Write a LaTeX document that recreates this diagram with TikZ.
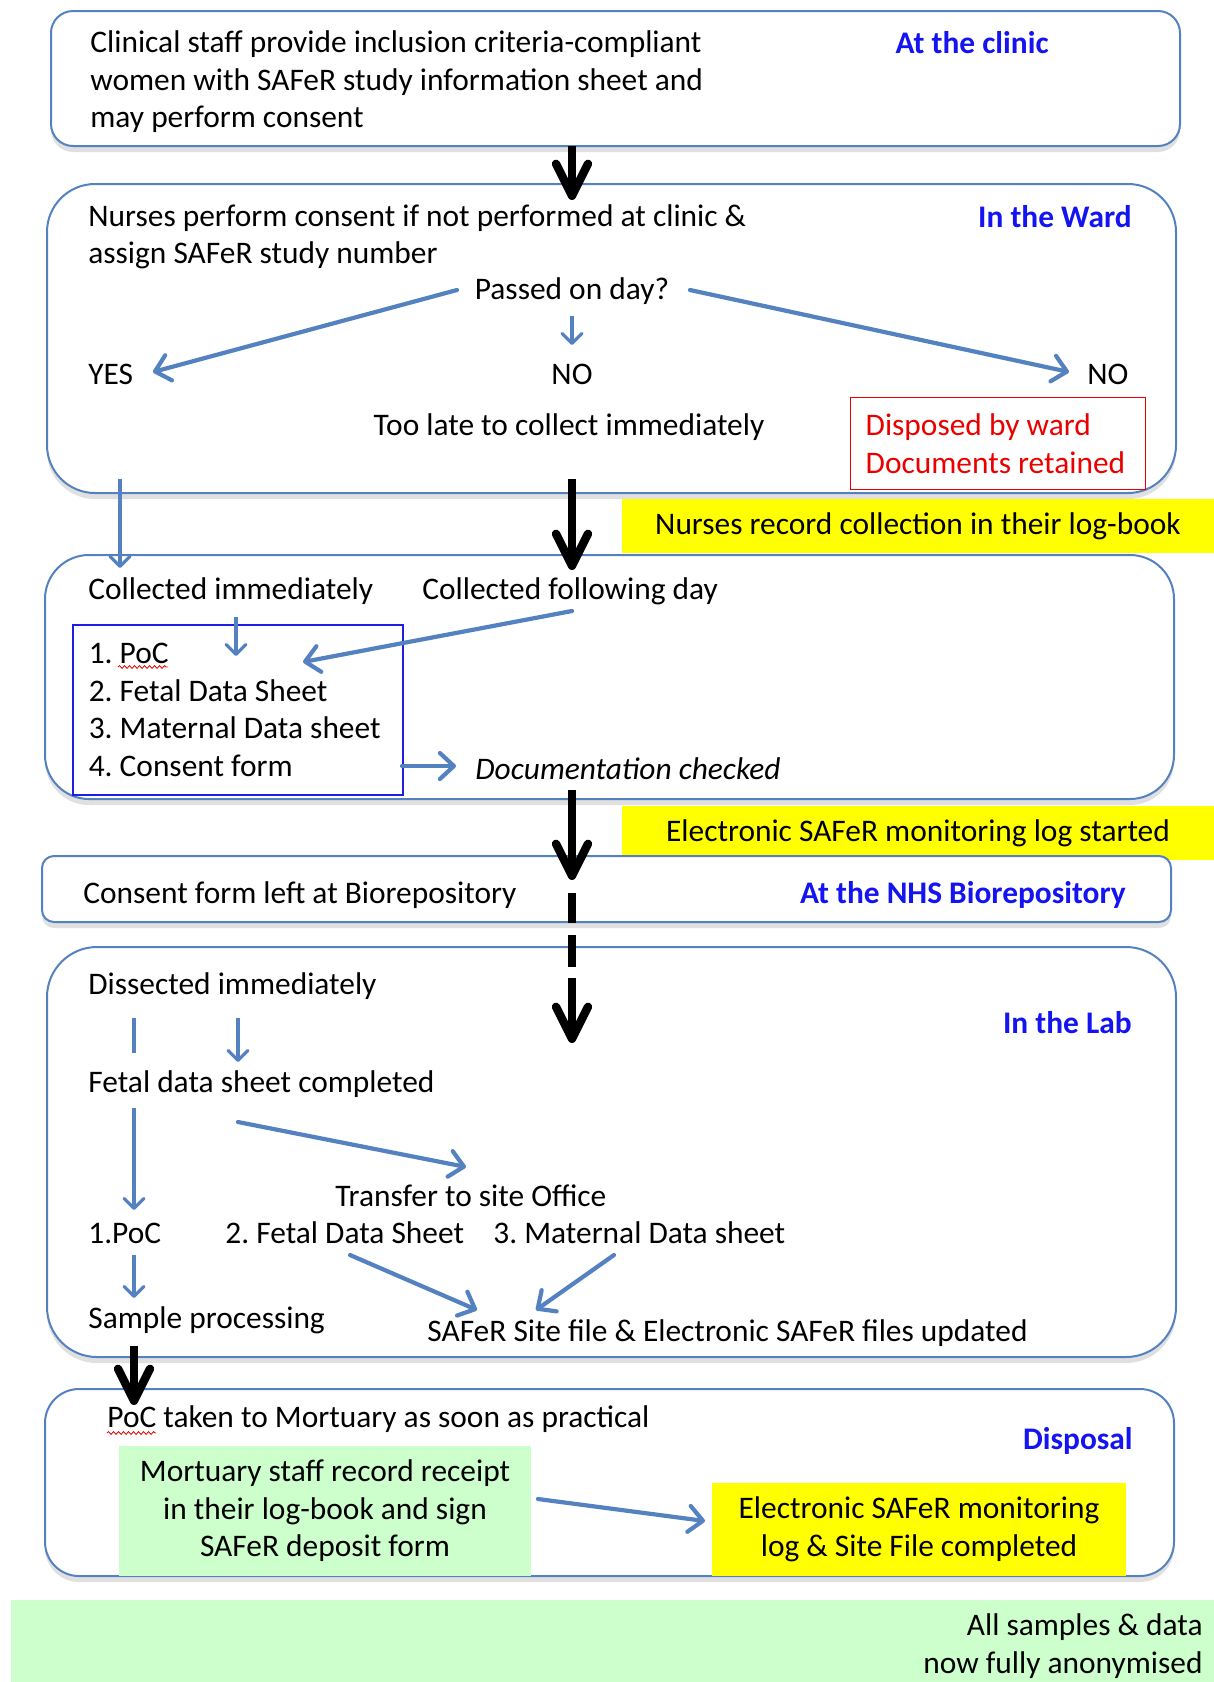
\documentclass[tikz,border=0pt]{standalone}
\usepackage{fontspec}
\setmainfont{Carlito}
\frenchspacing
\usetikzlibrary{arrows.meta,shadows,decorations.pathmorphing}
\definecolor{bdr}{RGB}{84,130,192}
\definecolor{arr}{RGB}{84,130,192}
\definecolor{lbl}{RGB}{20,20,240}
\definecolor{ylw}{RGB}{255,255,0}
\definecolor{grn}{RGB}{204,255,204}
\definecolor{redc}{RGB}{235,0,0}
\definecolor{listblue}{RGB}{30,30,230}
\begin{document}
\begin{tikzpicture}[x=0.5pt,y=-0.5pt,
  every node/.style={inner sep=0pt, font=\fontsize{15.7}{18.75}\selectfont},
  stage/.style={draw=bdr, line width=1pt, fill=white,
    drop shadow={shadow xshift=0pt, shadow yshift=-3pt, opacity=0.12, fill=black}},
  tx/.style={yshift=-1.5pt},
  txt/.style={tx, anchor=west, align=flush left},
  lab/.style={tx, anchor=east, text=lbl, font=\fontsize{15.7}{18.75}\selectfont\bfseries},
  flow/.style={draw=arr, line width=2.1pt, line cap=round,
    -{Straight Barb[length=7pt,width=13pt,line cap=round,line join=round]}},
  flowS/.style={draw=arr, line width=1.6pt,
    -{Straight Barb[length=5pt,width=10pt,line cap=round,line join=round]}},
  plain/.style={draw=arr, line width=1.6pt},
  bigarrow/.style={draw=black, line width=4.2pt,
    -{Straight Barb[length=16pt,width=16pt,line cap=round,line join=round]}},
  blackseg/.style={draw=black, line width=4.2pt},
  hl/.style={fill=ylw, align=center},
  gr/.style={fill=grn, align=center},
  wavy/.style={draw=redc, line width=0.4pt, decorate, decoration={snake, amplitude=0.7pt, segment length=2.5pt}}
]
\useasboundingbox (0,0) rectangle (1214,1682);

% ---------- stage 1: clinic
\draw[stage, rounded corners=11pt] (51,11) rectangle (1180,146);
\node[txt] (t1) at (90,79) {Clinical staff provide inclusion criteria-compliant\\women with SAFeR study information sheet and\\may perform consent};
\node[lab] (l1) at (1049,40) {At the clinic};

% ---------- stage 2: ward
\draw[stage, rounded corners=24pt] (47,184) rectangle (1176,493);
\node[txt] (t2) at (88,234) {Nurses perform consent if not performed at clinic \&\\assign SAFeR study number};
\node[lab] (l2) at (1132,214) {In the Ward};
\node[tx] (passed) at (572,288) {Passed on day?};
\node[txt] (yes) at (88,371) {YES};
\node[tx] (no1) at (572,371) {NO};
\node[txt] (no2) at (1087,371) {NO};
\node[tx] (late) at (569,424) {Too late to collect immediately};
\node[draw=redc, line width=0.7pt, anchor=north west, minimum height=46pt,
      text width=132.5pt, inner xsep=7.5pt, align=flush left, text=redc] (disp) at (850,397)
      {Disposed by ward\\Documents retained};

\coordinate (pY) at (457,290); \coordinate (yY) at (153,372);
\coordinate (pN) at (572,316); \coordinate (nN) at (572,345);
\coordinate (pR) at (690,290); \coordinate (rR) at (1069,372);
\draw[flow] (pY) -- (yY);
\draw[flowS] (pN) -- (nN);
\draw[flow] (pR) -- (rR);

\coordinate (a1s) at (572,146); \coordinate (a1e) at (572,200);
\draw[bigarrow] (a1s) -- (a1e);

% ---------- yellow 1
\node[hl, minimum width=296pt, minimum height=27pt] (y1) at (918,526) {Nurses record collection in their log-book};

% ---------- stage 3: collection
\draw[stage, rounded corners=22pt] (45,555) rectangle (1174,799);
\node[txt] (ci) at (88,588) {Collected immediately};
\node[txt] (cf) at (422,588) {Collected following day};
\node[draw=listblue, line width=0.8pt, anchor=north west, minimum height=85pt,
      text width=149pt, inner xsep=8pt, align=flush left] (list) at (72,624)
      {1. PoC\\2. Fetal Data Sheet\\3. Maternal Data sheet\\4. Consent form};
\draw[wavy] (118,667) -- (168,667);
\node[txt, font=\fontsize{15.7}{18.75}\selectfont\itshape] (doc) at (475,766) {Documentation checked};

\coordinate (b2s) at (120,479); \coordinate (b2e) at (120,568);
\draw[flowS] (b2s) -- (b2e);
\coordinate (k2s) at (572,479); \coordinate (k2e) at (572,570);
\draw[bigarrow] (k2s) -- (k2e);

\coordinate (ciA) at (236,617); \coordinate (ciB) at (236,656);
\draw[flowS] (ciA) -- (ciB);
\coordinate (cfA) at (572,611); \coordinate (cfB) at (303,662);
\draw[flow] (cfA) -- (cfB);
\coordinate (lsA) at (402,766); \coordinate (lsB) at (456,766);
\draw[flow] (lsA) -- (lsB);

% ---------- yellow 2
\node[hl, minimum width=296pt, minimum height=27pt] (y2) at (918,833) {Electronic SAFeR monitoring log started};

% ---------- stage 4: biorepository
\draw[stage, rounded corners=6pt] (42,856) rectangle (1171,922);
\node[txt] (cons) at (83,892) {Consent form left at Biorepository};
\node[lab] (l4) at (1126,892) {At the NHS Biorepository};

\coordinate (k3s) at (572,790); \coordinate (k3e) at (572,880);
\draw[bigarrow] (k3s) -- (k3e);

% ---------- stage 5: lab
\draw[stage, rounded corners=25pt] (47,947) rectangle (1176,1357);
\node[txt] (dis) at (88,983) {Dissected immediately};
\node[lab] (l5) at (1132,1020) {In the Lab};
\node[txt] (fdsc) at (88,1081) {Fetal data sheet completed};
\node[txt] (trans) at (335,1193) {Transfer to site Office};
\node[txt] (poc) at (88,1230) {1.PoC};
\node[txt] (fds) at (225,1230) {2. Fetal Data Sheet};
\node[txt] (mds) at (493,1230) {3. Maternal Data sheet};
\node[txt] (sp) at (88,1317) {Sample processing};
\node[txt] (sf) at (427,1330) {SAFeR Site file \& Electronic SAFeR files updated};

\coordinate (d1) at (572,893); \coordinate (d2) at (572,923);
\coordinate (d3) at (572,935); \coordinate (d4) at (572,967);
\coordinate (d5) at (572,978); \coordinate (d6) at (572,1043);
\draw[blackseg] (d1) -- (d2);
\draw[blackseg] (d3) -- (d4);
\draw[bigarrow] (d5) -- (d6);

\coordinate (m1) at (134,1018); \coordinate (m2) at (134,1053);
\draw[plain] (m1) -- (m2);
\coordinate (m3) at (238,1018); \coordinate (m4) at (238,1062);
\draw[flowS] (m3) -- (m4);
\coordinate (m5) at (134,1108); \coordinate (m6) at (134,1210);
\draw[flowS] (m5) -- (m6);
\coordinate (m7) at (238,1122); \coordinate (m8) at (466,1167);
\draw[flow] (m7) -- (m8);
\coordinate (m9) at (134,1255); \coordinate (m10) at (134,1298);
\draw[flowS] (m9) -- (m10);
\coordinate (m11) at (350,1255); \coordinate (m12) at (477,1310);
\draw[flow] (m11) -- (m12);
\coordinate (m13) at (614,1255); \coordinate (m14) at (536,1310);
\draw[flow] (m13) -- (m14);

% ---------- stage 6: disposal
\draw[stage, rounded corners=17pt] (45,1389) rectangle (1174,1576);
\node[txt] (poct) at (107,1416) {PoC taken to Mortuary as soon as practical};
\draw[wavy] (107,1433) -- (156,1433);
\node[lab] (l6) at (1133,1438) {Disposal};
\node[gr, minimum width=206pt, minimum height=65pt] (mort) at (325,1511)
   {Mortuary staff record receipt\\in their log-book and sign\\SAFeR deposit form};
\node[hl, minimum width=207pt, minimum height=46.5pt] (y3) at (919,1529.5)
   {Electronic SAFeR monitoring\\log \& Site File completed};
\coordinate (g1) at (538,1499); \coordinate (g2) at (705,1521);
\draw[flow] (g1) -- (g2);

\coordinate (k5s) at (134,1346); \coordinate (k5e) at (134,1405);
\draw[bigarrow] (k5s) -- (k5e);

% ---------- bottom band
\fill[grn] (11,1600) rectangle (1214,1682);
\node[anchor=east, align=right] (anon) at (1203,1646) {All samples \& data\\now fully anonymised};
\end{tikzpicture}
\end{document}
